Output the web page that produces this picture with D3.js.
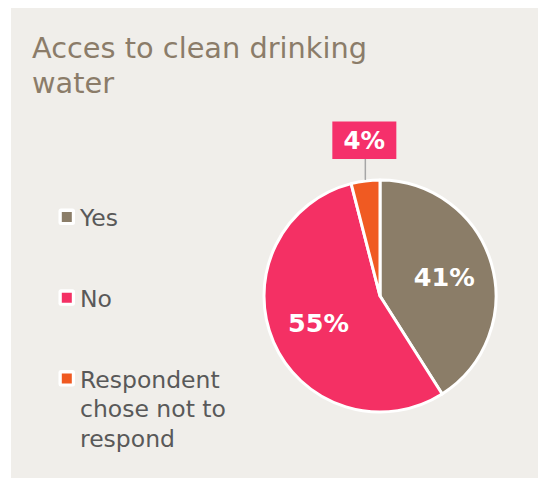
<!DOCTYPE html>
<html>
<head>
<meta charset="utf-8">
<script src="https://cdn.jsdelivr.net/npm/d3@7"></script>
<style>
  body { margin: 0; background: #fff; }
  svg { display: block; font-family: "DejaVu Sans", Verdana, sans-serif; }
</style>
</head>
<body>
<div id="chart"></div>
<script>
// chart data
var categories = ["Yes", "No", "Respondent chose not to respond"];
var values = [41, 55, 4];
var colors = ["#8b7d68", "#f43064", "#f05a22"];
var legendLines = [["Yes"], ["No"], ["Respondent", "chose not to", "respond"]];
var titleLines = ["Acces to clean drinking", "water"];

var svgWidth = 538, svgHeight = 479;

var svg = d3.select("#chart")
  .append("svg")
  .attr("width", svgWidth)
  .attr("height", svgHeight);

// panel background
svg.append("rect")
  .attr("x", 11)
  .attr("y", 8)
  .attr("width", svgWidth - 11)
  .attr("height", 470)
  .attr("fill", "#f0eeea");

// title
svg.append("text")
  .attr("x", 32)
  .attr("y", 58)
  .attr("fill", "#8b7c69")
  .style("font-size", "28.8px")
  .selectAll("tspan")
  .data(titleLines)
  .enter()
  .append("tspan")
  .attr("x", 32)
  .attr("dy", (d, i) => i ? 35 : 0)
  .text(d => d);

// legend
var legend = svg.append("g");
var rowY = d3.scalePoint().domain(categories).range([226, 387.5]);

var item = legend.selectAll("g")
  .data(categories)
  .enter()
  .append("g")
  .attr("transform", d => `translate(0, ${rowY(d)})`);

item.append("rect")
  .attr("x", 58.5)
  .attr("y", -17.5)
  .attr("width", 16.5)
  .attr("height", 16.5)
  .attr("rx", 2.5)
  .attr("fill", "#fff");

item.append("rect")
  .attr("x", 61.8)
  .attr("y", -14)
  .attr("width", 10)
  .attr("height", 10)
  .attr("fill", (d, i) => colors[i]);

item.append("text")
  .attr("fill", "#595959")
  .style("font-size", "23.5px")
  .selectAll("tspan")
  .data((d, i) => legendLines[i])
  .enter()
  .append("tspan")
  .attr("x", 80)
  .attr("dy", (d, i) => i ? 29.5 : 0)
  .text(d => d);

// pie
var cx = 380, cy = 296, radius = 116;
var pieGroup = svg.append("g")
  .attr("transform", `translate(${cx}, ${cy})`);

var pie = d3.pie().sort(null).value(d => d);
var arcs = pie(values);

var arc = d3.arc().innerRadius(0).outerRadius(radius);
var labelArc = d3.arc().innerRadius(67).outerRadius(67);

pieGroup.selectAll("path")
  .data(arcs)
  .enter()
  .append("path")
  .attr("d", arc)
  .attr("fill", (d, i) => colors[i])
  .attr("stroke", "#fff")
  .attr("stroke-width", 3)
  .attr("stroke-linejoin", "round");

// inside labels for big slices
pieGroup.selectAll("text.inside")
  .data(arcs.filter(d => d.data >= 10))
  .enter()
  .append("text")
  .attr("class", "inside")
  .attr("transform", d => `translate(${labelArc.centroid(d)})`)
  .attr("text-anchor", "middle")
  .attr("dy", "0.36em")
  .attr("fill", "#fff")
  .style("font-size", "25.5px")
  .style("font-weight", "bold")
  .text(d => d.data + "%");

// callout for small slice
var small = arcs.filter(d => d.data < 10);
var edgeArc = d3.arc().innerRadius(radius + 1).outerRadius(radius + 1);
small.forEach(function(d) {
  var p = edgeArc.centroid(d);
  var boxW = 64, boxH = 37.5, boxBottom = -radius - 21;
  pieGroup.append("line")
    .attr("x1", p[0]).attr("y1", p[1])
    .attr("x2", p[0]).attr("y2", boxBottom)
    .attr("stroke", "#a6a6a6")
    .attr("stroke-width", 1.5);
  pieGroup.append("rect")
    .attr("x", p[0] - boxW / 2 - 1)
    .attr("y", boxBottom - boxH)
    .attr("width", boxW)
    .attr("height", boxH)
    .attr("fill", "#f5306b");
  pieGroup.append("text")
    .attr("x", p[0] - 1)
    .attr("y", boxBottom - boxH / 2)
    .attr("dy", "0.36em")
    .attr("text-anchor", "middle")
    .attr("fill", "#fff")
    .style("font-size", "24.5px")
    .style("font-weight", "bold")
    .text(d.data + "%");
});
</script>
</body>
</html>
